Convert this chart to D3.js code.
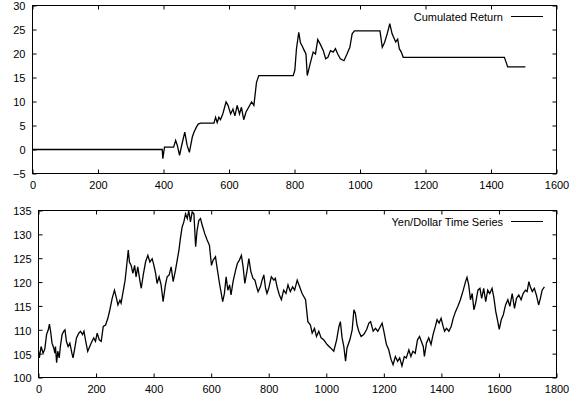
<!DOCTYPE html>
<html>
<head>
<meta charset="utf-8">
<script src="https://cdn.jsdelivr.net/npm/d3@7"></script>
<style>
  body { margin: 0; background: #fff; }
  svg { display: block; font-family: "Liberation Sans", Arial, Helvetica, sans-serif; }
  .axis text { font-size: 11px; fill: #000; }
  .axis line { stroke: #000; }
</style>
</head>
<body>
<div id="chart"><svg></svg></div>
<script>
// cumulated return: [day, value]
const retPoints = [
  [0,0],[396,0],[398,-1.9],[403,0.5],[431,0.5],[437,1.9],[442,0.9],[449,-1.2],[457,1.3],[465,3.6],
  [472,0.9],[479,-0.6],[488,2.6],[493,3.6],[500,4.6],[506,5.3],[513,5.5],[554,5.5],[559,6.7],[564,5.6],
  [569,6.7],[574,6.2],[581,7.4],[591,9.9],[597,9.2],[605,7.4],[612,8.4],[618,7.0],[625,9.2],[632,7.4],
  [638,8.8],[645,6.2],[652,7.8],[660,8.8],[669,9.9],[676,9.2],[684,14.0],[691,15.4],[796,15.4],[801,16.5],
  [806,21.0],[813,24.4],[818,22.3],[823,21.6],[830,20.6],[835,19.9],[839,15.4],[849,18.2],[857,20.3],[864,19.9],
  [871,22.9],[879,21.9],[888,20.6],[895,18.9],[902,19.2],[910,20.6],[918,20.3],[925,21.0],[932,19.9],[940,18.9],
  [951,18.5],[961,20.0],[969,21.3],[976,24.1],[983,24.7],[1061,24.7],[1068,21.3],[1075,22.3],[1083,24.1],[1091,26.2],
  [1098,24.1],[1104,23.2],[1109,22.4],[1115,23.0],[1120,21.0],[1126,20.3],[1132,19.2],[1441,19.2],[1446,18.2],[1451,17.2],
  [1505,17.2]
];

// yen/dollar rate: [day, rate]
const yenPoints = [
  [0,105.5],[3,104.1],[9,106.5],[16,105.1],[22,106],[28,109],[34,110],[38,111.2],[42,109.7],[47,107.2],
  [53,106.2],[57,105.1],[59,106.5],[63,103.1],[67,105.5],[72,104.1],[76,106.5],[82,109],[88,109.7],[92,110],
  [97,107.6],[103,106.5],[109,107.2],[116,105.1],[120,104.1],[125,105.8],[132,108.3],[140,109.3],[146,109.7],[153,109],
  [158,109.7],[164,107.6],[171,105.5],[178,106.5],[186,107.6],[192,108.3],[198,107.6],[204,109.3],[211,107.9],[218,107.6],
  [225,110.7],[233,111],[241,112.4],[248,114.2],[256,116.6],[264,118.3],[271,116.6],[276,115.2],[283,116.2],[287,115.6],
  [294,118],[301,120.4],[306,123.2],[312,126.7],[316,124.2],[322,123.5],[328,121.8],[334,123.5],[339,121.1],[345,123.2],
  [352,120.4],[357,118.7],[364,121.5],[372,124.2],[380,125.6],[387,124.2],[395,124.9],[401,123.5],[407,121.8],[412,119.7],
  [419,121.1],[426,119.4],[433,115.9],[441,119.4],[447,121.1],[454,121.5],[461,123.2],[468,120.1],[476,122.5],[482,124.6],
  [488,126.7],[493,129.1],[499,131.5],[505,132.6],[511,134.3],[517,133.3],[522,135],[528,132.6],[534,134.7],[540,134.3],
  [546,127.4],[551,130.8],[557,132.9],[563,133.3],[569,131.9],[578,130.1],[586,128.8],[594,127.7],[601,123.5],[607,124.6],
  [615,125.3],[621,122.8],[629,119.7],[636,117.3],[640,115.9],[646,117.6],[652,121.1],[658,118.3],[664,119.4],[669,117.3],
  [676,120.1],[685,122.5],[691,123.9],[698,124.6],[705,125.6],[711,123.2],[717,119.7],[725,122.5],[731,124.9],[738,122.2],
  [745,120.8],[752,120.4],[758,119],[763,118],[771,119],[777,120.4],[783,121.5],[789,118.7],[794,117.6],[800,118.7],
  [809,121.1],[818,120.4],[823,120.8],[829,119],[837,117.3],[844,116.3],[852,118.3],[860,117.6],[867,119.4],[875,118],
  [883,119],[890,118.3],[899,120.4],[916,117.6],[928,116.3],[936,111.7],[945,111],[951,109.3],[959,110.3],[966,108.6],
  [974,109.7],[982,108.3],[991,107.9],[1003,106.9],[1015,106.2],[1026,105.5],[1036,107.9],[1044,110.7],[1049,111.7],[1055,108.3],
  [1061,106.5],[1067,103.4],[1072,106.2],[1082,107.9],[1090,110],[1096,114.2],[1101,113.5],[1107,111],[1113,109.7],[1121,108.6],
  [1130,109],[1140,110],[1148,111.4],[1154,111.7],[1163,109.7],[1171,110.3],[1179,109.7],[1188,110.7],[1194,111.4],[1200,109.7],
  [1209,106.9],[1217,105.8],[1225,103.8],[1232,102.7],[1240,104.4],[1248,103.4],[1255,104.1],[1263,102.4],[1271,104.4],[1278,104.1],
  [1287,105.8],[1294,104.4],[1301,105.5],[1309,105.1],[1317,107.9],[1324,108.6],[1337,106.5],[1341,104.4],[1348,107.2],[1356,108.3],
  [1364,106.9],[1371,109],[1379,110.7],[1385,112.1],[1392,111.4],[1399,112.4],[1406,110.7],[1411,109.7],[1418,110.3],[1426,109.7],
  [1434,110.7],[1441,112.4],[1449,113.8],[1457,114.9],[1466,116.3],[1476,118.3],[1484,120.1],[1489,121],[1495,119.4],[1501,116.3],
  [1507,117.6],[1513,114.2],[1519,115.6],[1527,118.3],[1534,118.7],[1540,116.6],[1547,118.7],[1554,115.9],[1561,118.3],[1568,117.6],
  [1576,118.7],[1582,116.9],[1589,113.8],[1596,111.7],[1601,110.1],[1608,112.1],[1615,113.1],[1623,115.2],[1631,116.3],[1638,114.9],
  [1646,117.6],[1654,114.5],[1661,116.6],[1669,117.3],[1677,116.3],[1684,117.6],[1692,118.3],[1698,118],[1704,120.1],[1709,119],
  [1716,118],[1723,118.7],[1730,117.3],[1738,115.2],[1744,116.6],[1750,118.3],[1758,119]
];

const retTicksX = [0, 200, 400, 600, 800, 1000, 1200, 1400, 1600];
const retTicksY = [-5, 0, 5, 10, 15, 20, 25, 30];
const yenTicksX = [0, 200, 400, 600, 800, 1000, 1200, 1400, 1600, 1800];
const yenTicksY = [100, 105, 110, 115, 120, 125, 130, 135];

const retLabel = 'Cumulated Return';
const yenLabel = 'Yen/Dollar Time Series';

const width = 579, height = 399;
const svg = d3.select('#chart').select('svg').attr('width', width).attr('height', height);

function drawPanel(p) {
  const x = d3.scaleLinear().domain(d3.extent(p.ticksX)).range([p.left, p.right]);
  const y = d3.scaleLinear().domain(d3.extent(p.ticksY)).range([p.bottom, p.top]);
  const g = svg.append('g');

  // inward ticks on all four sides, labels on left/bottom only
  g.append('g').attr('class', 'axis').attr('transform', `translate(0,${p.bottom})`)
    .call(d3.axisBottom(x).tickValues(p.ticksX).tickSize(-4).tickPadding(8).tickFormat(d3.format('d')));
  g.append('g').attr('class', 'axis').attr('transform', `translate(0,${p.top})`)
    .call(d3.axisTop(x).tickValues(p.ticksX).tickSize(-4).tickFormat(''));
  g.append('g').attr('class', 'axis').attr('transform', `translate(${p.left},0)`)
    .call(d3.axisLeft(y).tickValues(p.ticksY).tickSize(-4).tickPadding(7).tickFormat(d3.format('d')));
  g.append('g').attr('class', 'axis').attr('transform', `translate(${p.right},0)`)
    .call(d3.axisRight(y).tickValues(p.ticksY).tickSize(-4).tickFormat(''));
  g.selectAll('.domain').remove();
  g.selectAll('.axis text').attr('dy', function () {
    return d3.select(this.parentNode.parentNode).attr('transform').startsWith('translate(0') ? '0.71em' : '0.4em';
  });

  const line = d3.line().x(d => x(d[0])).y(d => y(d[1]));
  g.append('path').datum(p.points)
    .attr('fill', 'none').attr('stroke', '#000').attr('stroke-width', 1.3)
    .attr('stroke-linejoin', 'miter').attr('d', line);

  g.append('rect')
    .attr('x', p.left).attr('y', p.top)
    .attr('width', p.right - p.left).attr('height', p.bottom - p.top)
    .attr('fill', 'none').attr('stroke', '#000').attr('stroke-width', 1);

  // key
  g.append('text').attr('x', 503).attr('y', p.top + 15)
    .attr('text-anchor', 'end').attr('font-size', 11).attr('fill', '#000').text(p.label);
  g.append('line').attr('x1', 511).attr('x2', 543)
    .attr('y1', p.top + 11).attr('y2', p.top + 11).attr('stroke', '#000').attr('stroke-width', 1);
}

drawPanel({ points: retPoints, ticksX: retTicksX, ticksY: retTicksY, label: retLabel,
  left: 32.5, right: 556.5, top: 5.5, bottom: 173.5 });
drawPanel({ points: yenPoints, ticksX: yenTicksX, ticksY: yenTicksY, label: yenLabel,
  left: 38.5, right: 556.5, top: 210.5, bottom: 377.5 });
</script>
</body>
</html>
